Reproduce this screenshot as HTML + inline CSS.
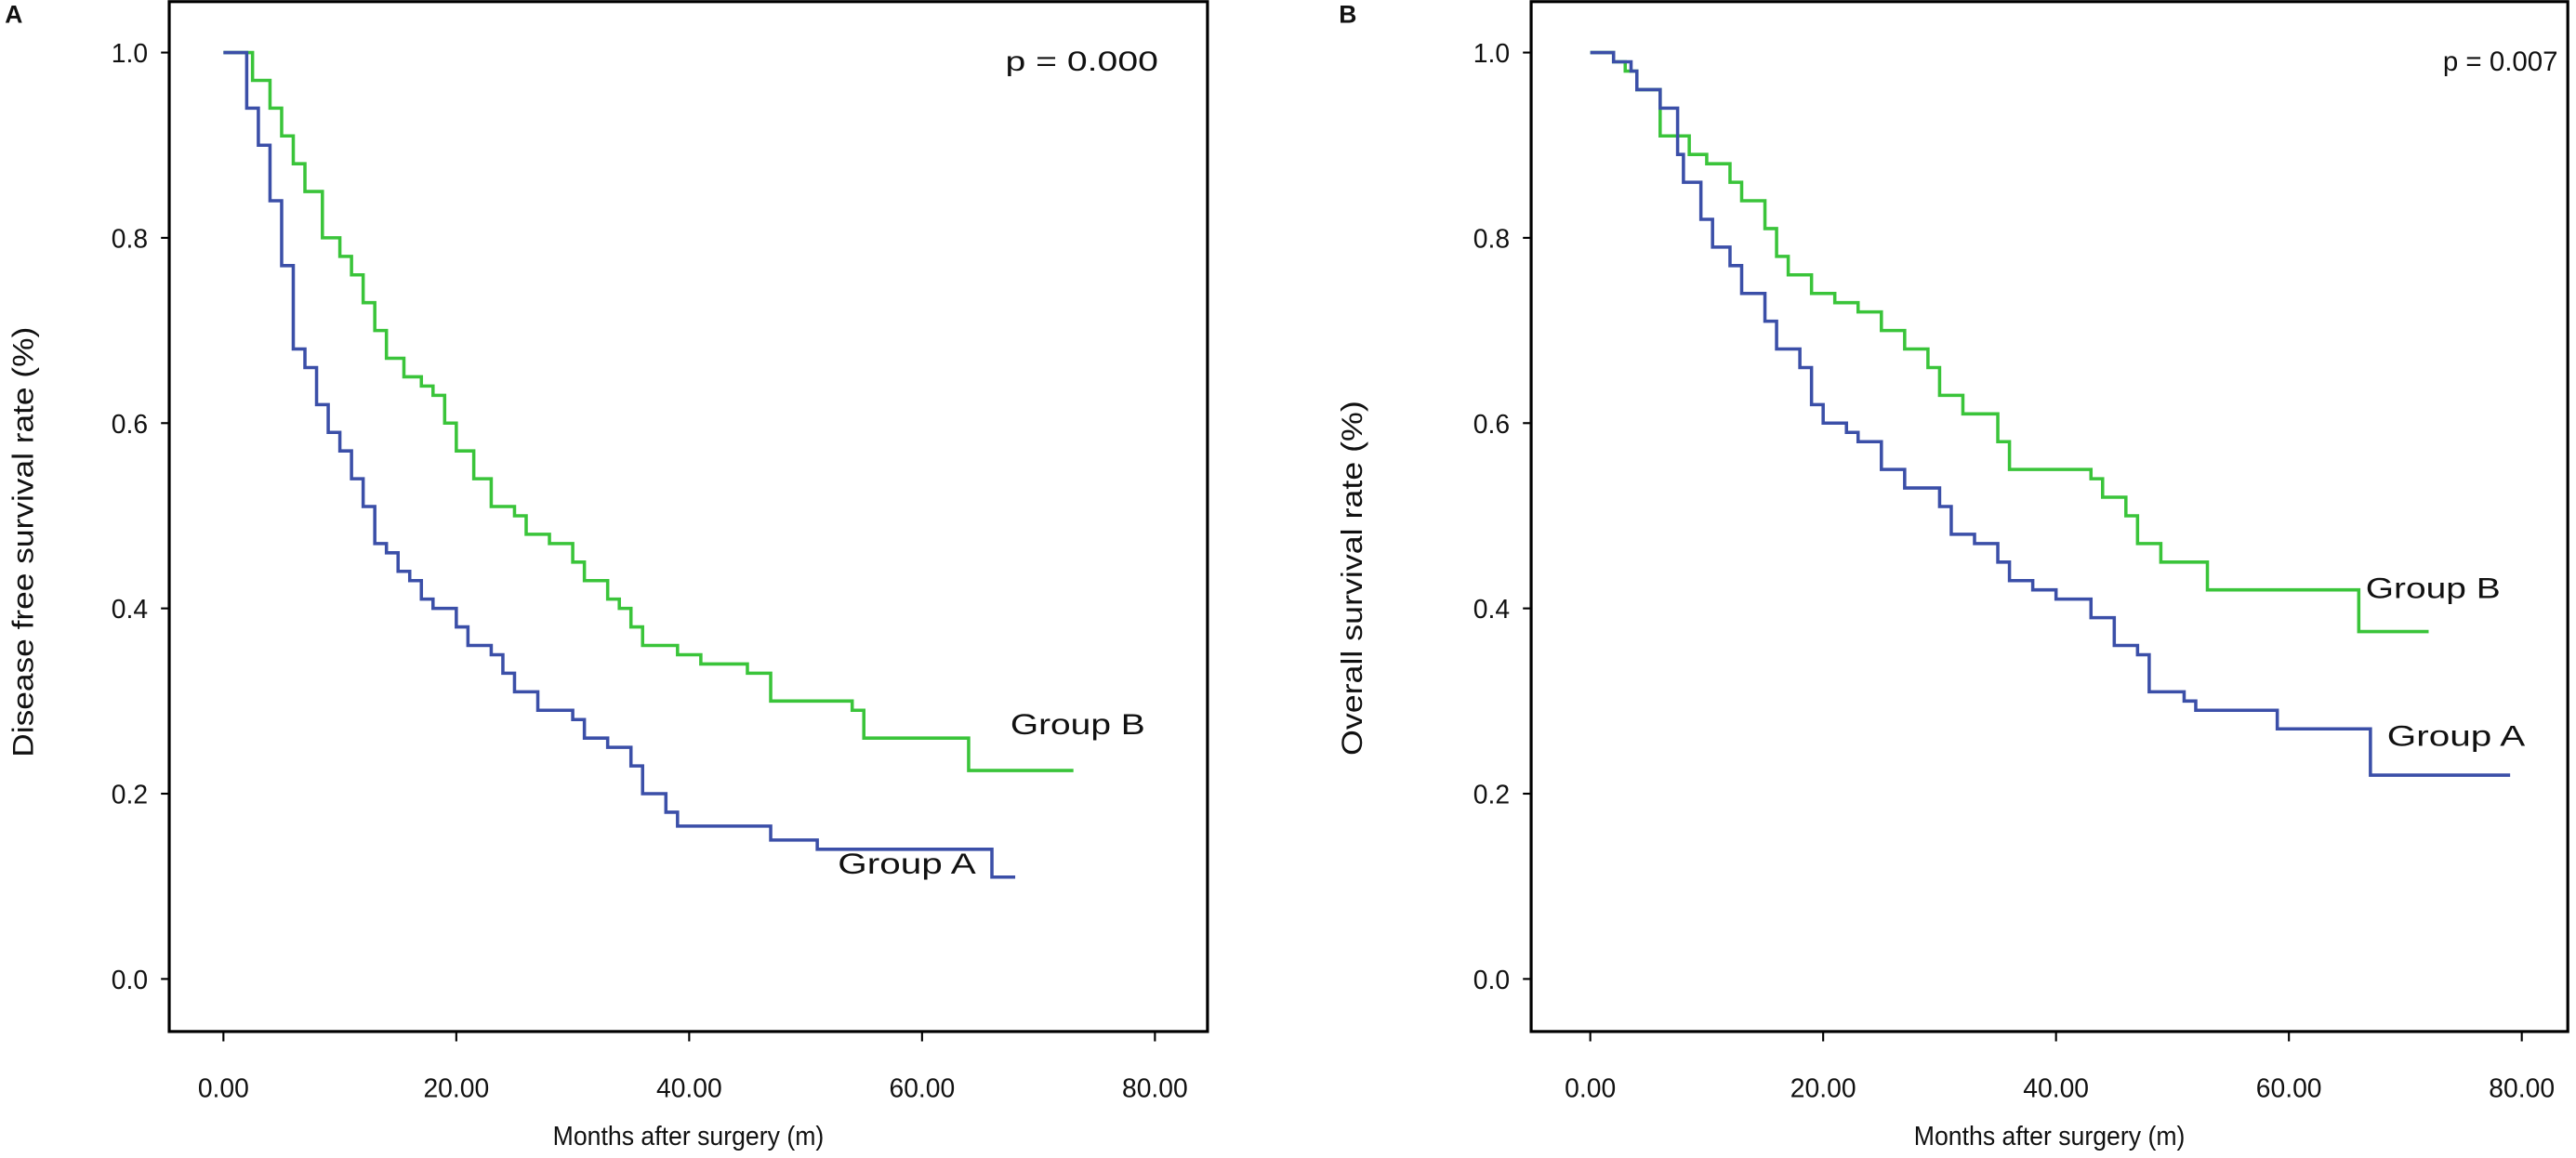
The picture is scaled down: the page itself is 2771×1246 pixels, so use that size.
<!DOCTYPE html>
<html><head><meta charset="utf-8"><style>
html,body{margin:0;padding:0;background:#fff;}
svg{display:block;}
text{font-family:"Liberation Sans Narrow","Liberation Sans",sans-serif;fill:#111;}
</style></head><body>
<svg id="fig" width="2771" height="1246" viewBox="0 0 1568 705" preserveAspectRatio="none" xmlns="http://www.w3.org/2000/svg"></svg>
<script>
// Panel A: disease free survival
const aBlueT=[0,2,3,4,5,6,7,8,9,10,11,12,13,14,15,16,17,18,20,21,23,24,25,27,30,31,33,35,36,38,39,47,51,66];
const aBlueS=[1.0,0.94,0.90,0.84,0.77,0.68,0.66,0.62,0.59,0.57,0.54,0.51,0.47,0.46,0.44,0.43,0.41,0.40,0.38,0.36,0.35,0.33,0.31,0.29,0.28,0.26,0.25,0.23,0.20,0.18,0.165,0.15,0.14,0.11];
const aBlueEnd=68;
const aGreenT=[0,2.5,4,5,6,7,8.5,10,11,12,13,14,15.5,17,18,19,20,21.5,23,25,26,28,30,31,33,34,35,36,39,41,45,47,54,55,64];
const aGreenS=[1.0,0.97,0.94,0.91,0.88,0.85,0.80,0.78,0.76,0.73,0.70,0.67,0.65,0.64,0.63,0.60,0.57,0.54,0.51,0.50,0.48,0.47,0.45,0.43,0.41,0.40,0.38,0.36,0.35,0.34,0.33,0.30,0.29,0.26,0.225];
const aGreenEnd=73;
// Panel B: overall survival
const bBlueT=[0,2,3.5,4,6,7.5,8,9.5,10.5,12,13,15,16,18,19,20,22,23,25,27,30,31,33,35,36,38,40,43,45,47,48,51,52,59,67];
const bBlueS=[1.0,0.99,0.98,0.96,0.94,0.89,0.86,0.82,0.79,0.77,0.74,0.71,0.68,0.66,0.62,0.60,0.59,0.58,0.55,0.53,0.51,0.48,0.47,0.45,0.43,0.42,0.41,0.39,0.36,0.35,0.31,0.30,0.29,0.27,0.22];
const bBlueEnd=79;
const bGreenT=[0,2,3,4,6,8.5,10,12,13,15,16,17,19,21,23,25,27,29,30,32,35,36,43,44,46,47,49,53,66];
const bGreenS=[1.0,0.99,0.98,0.96,0.91,0.89,0.88,0.86,0.84,0.81,0.78,0.76,0.74,0.73,0.72,0.70,0.68,0.66,0.63,0.61,0.58,0.55,0.54,0.52,0.50,0.47,0.45,0.42,0.375];
const bGreenEnd=72;
const xTicks=[0,20,40,60,80];
const xTickLabels=["0.00","20.00","40.00","60.00","80.00"];
const yTicks=[0,0.2,0.4,0.6,0.8,1.0];
const yTickLabels=["0.0","0.2","0.4","0.6","0.8","1.0"];

const NS="http://www.w3.org/2000/svg";
const svg=document.getElementById('fig');
function mk(tag,attrs,parent,txt){const e=document.createElementNS(NS,tag);for(const k in attrs)e.setAttribute(k,attrs[k]);if(txt!==undefined)e.textContent=txt;(parent||svg).appendChild(e);return e;}

function panel(cfg){
  const g=mk('g',{});
  
  
  const xS=v=>cfg.x0+(cfg.x80-cfg.x0)*v/80;
  const yS=v=>596-564*v;
  const box=mk('rect',{x:cfg.left,y:1,width:cfg.right-cfg.left,height:627,fill:'none',stroke:'#000','stroke-width':1.8},g);
  
  
  xTicks.forEach((t,i)=>{
    const x=xS(t);
    const tk=mk('line',{x1:x,x2:x,y1:628,y2:634,stroke:'#000','stroke-width':1.2},g);
    
    
    const lb=mk('text',{x:x,y:668,'text-anchor':'middle','font-size':16},g,xTickLabels[i]);
    
    
  });
  yTicks.forEach((t,i)=>{
    const y=yS(t);
    const tk=mk('line',{x1:cfg.left-5,x2:cfg.left,y1:y,y2:y,stroke:'#000','stroke-width':1.2},g);
    
    
    const lb=mk('text',{x:cfg.left-13,y:y+6,'text-anchor':'end','font-size':16},g,yTickLabels[i]);
    
    
  });
  const xt=mk('text',{x:(cfg.left+cfg.right)/2,y:697,'text-anchor':'middle','font-size':16,textLength:165,lengthAdjust:'spacingAndGlyphs'},g,'Months after surgery (m)');
  
  
  const yt=mk('text',{x:0,y:0,'text-anchor':'middle','font-size':18,textLength:cfg.ytl,lengthAdjust:'spacingAndGlyphs',transform:`translate(${cfg.ytx},${cfg.yty}) rotate(-90)`},g,cfg.ytitle);
  
  
  const pl=mk('text',{x:cfg.px,y:43,'font-size':17,textLength:cfg.pw,lengthAdjust:'spacingAndGlyphs'},g,cfg.p);
  
  
  const pl2=mk('text',{x:cfg.panelLX,y:14,'font-size':15,'font-weight':'bold'},g,cfg.letter);
  
  
  function step(T,S,end,color,nm){
    let d=`M${xS(T[0])},${yS(S[0])}`;
    for(let i=1;i<T.length;i++){d+=`H${xS(T[i])}V${yS(S[i])}`;}
    d+=`H${xS(end)}`;
    const p=mk('path',{d:d,fill:'none',stroke:color,'stroke-width':2},g);
    
    
  }
  step(cfg.gT,cfg.gS,cfg.gE,'#3ac43a','group-b-curve');
  step(cfg.bT,cfg.bS,cfg.bE,'#3b4fa8','group-a-curve');
  const gb=mk('text',{x:cfg.gbx,y:cfg.gby,'font-size':18,textLength:82,lengthAdjust:'spacingAndGlyphs'},g,'Group B');
  
  
  const ga=mk('text',{x:cfg.gax,y:cfg.gay,'font-size':18,textLength:84,lengthAdjust:'spacingAndGlyphs'},g,'Group A');
  
  
}
panel({name:'panel-a-disease-free',left:103,right:735,x0:136,x80:703,ytx:20,yty:330,ytl:262,ytitle:'Disease free survival rate (%)',p:'p = 0.000',px:612,pw:93,letter:'A',panelLX:3,
  gT:aGreenT,gS:aGreenS,gE:aGreenEnd,bT:aBlueT,bS:aBlueS,bE:aBlueEnd,gbx:615,gby:447,gax:510,gay:532});
panel({name:'panel-b-overall',left:932,right:1563,x0:968,x80:1535,ytx:829,yty:352,ytl:216,ytitle:'Overall survival rate (%)',p:'p = 0.007',px:1487,pw:70,letter:'B',panelLX:815,
  gT:bGreenT,gS:bGreenS,gE:bGreenEnd,bT:bBlueT,bS:bBlueS,bE:bBlueEnd,gbx:1440,gby:364,gax:1453,gay:454});
</script>
</body></html>
